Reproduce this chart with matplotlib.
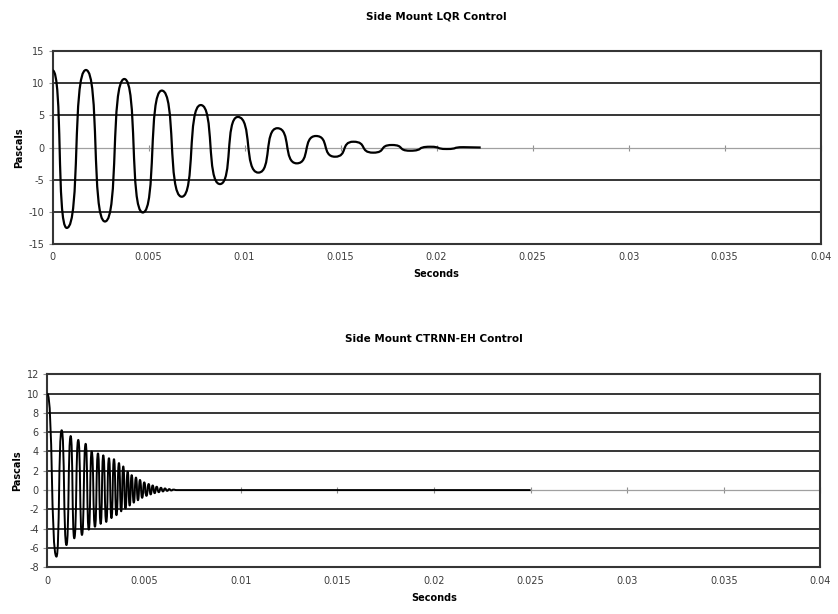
import matplotlib
matplotlib.use("Agg")
import matplotlib.pyplot as plt
from matplotlib.path import Path
from matplotlib.patches import PathPatch


# Extrema (seconds, pascals)
lqr_t = [0.0, 0.00074, 0.00174, 0.00273, 0.00374, 0.0047, 0.00569, 0.00673,
         0.00772, 0.00872, 0.00965, 0.01072, 0.01171, 0.01272, 0.01372,
         0.01471, 0.01567, 0.0167, 0.01767, 0.01862, 0.01966, 0.02053,
         0.0214, 0.0223]
lqr_p = [12.0, -12.5, 12.05, -11.5, 10.65, -10.1, 8.85, -7.65,
         6.6, -5.68, 4.75, -3.9, 3.0, -2.46, 1.79,
         -1.43, 0.9, -0.8, 0.39, -0.5, 0.12, -0.23,
         0.05, 0.0]

eh_t = [0.0, 0.000476, 0.000745, 0.000993, 0.001211, 0.001397, 0.001604,
        0.001795, 0.001987, 0.002147, 0.002297, 0.002468, 0.002623,
        0.002763, 0.002897, 0.003052, 0.003192, 0.003321, 0.003451,
        0.00358, 0.003709, 0.003823, 0.003932, 0.004046, 0.004159,
        0.004263, 0.004366, 0.004475, 0.004589, 0.004692, 0.004796,
        0.004909, 0.005018, 0.005132, 0.005246, 0.005349, 0.005453,
        0.005556, 0.005659, 0.005768, 0.005882, 0.005985, 0.006089,
        0.006203, 0.006311, 0.006415, 0.006518, 0.006694, 0.025]
eh_p = [10.0, -6.9, 6.2, -5.7, 5.6, -5.0, 5.2,
        -4.65, 4.8, -4.1, 4.0, -3.8, 3.8,
        -3.5, 3.6, -3.3, 3.3, -2.9, 3.2,
        -2.6, 2.8, -2.2, 2.45, -1.9, 1.9,
        -1.6, 1.55, -1.3, 1.3, -1.05, 1.05,
        -0.8, 0.8, -0.6, 0.63, -0.45, 0.48,
        -0.32, 0.35, -0.22, 0.24, -0.14, 0.17,
        -0.08, 0.1, -0.04, 0.05, 0.0, 0.0]

x_ticks = [0, 0.005, 0.01, 0.015, 0.02, 0.025, 0.03, 0.035, 0.04]
x_labels = ["0", "0.005", "0.01", "0.015", "0.02", "0.025", "0.03", "0.035", "0.04"]

GRID = "#353535"
TXT = "#3c3c3c"


def smooth_path(ts, ps, k):
    # cubic bezier between extrema, flat tangent at each turning point
    verts = [(ts[0], ps[0])]
    codes = [Path.MOVETO]
    for i in range(len(ts) - 1):
        dt = ts[i + 1] - ts[i]
        verts += [(ts[i] + k * dt, ps[i]), (ts[i + 1] - k * dt, ps[i + 1]),
                  (ts[i + 1], ps[i + 1])]
        codes += [Path.CURVE4] * 3
    return Path(verts, codes)


def draw_panel(ax, ts, ps, ylim, ystep, title, lw, k):
    ax.set_xlim(0, 0.04)
    ax.set_ylim(*ylim)
    yt = list(range(ylim[0], ylim[1] + 1, ystep))
    ax.set_yticks(yt)
    ax.set_yticklabels([str(v) for v in yt])
    ax.set_xticks(x_ticks)
    ax.set_xticklabels(x_labels)

    for v in yt:
        if v != 0 and v not in ylim:
            ax.axhline(v, color=GRID, lw=1.4, zorder=1)
    ax.axhline(0, color="#a0a0a0", lw=0.9, zorder=1)

    # category axis crossing at zero
    loc = (0 - ylim[0]) / (ylim[1] - ylim[0])
    sec = ax.secondary_xaxis(loc)
    sec.set_xticks(x_ticks)
    sec.set_xticklabels([])
    sec.tick_params(direction="inout", length=4, width=0.8, color="#909090")
    sec.spines["bottom"].set_visible(False)
    sec.spines["top"].set_visible(False)

    ax.add_patch(PathPatch(smooth_path(ts, ps, k), fill=False, ec="black",
                           lw=lw, zorder=3, joinstyle="round"))

    for s in ax.spines.values():
        s.set_color(GRID)
        s.set_linewidth(1.5)
    ax.tick_params(axis="x", length=0, pad=6, labelsize=7, labelcolor=TXT)
    ax.tick_params(axis="y", length=3, width=0.8, color="#909090", pad=3,
                   labelsize=7, labelcolor=TXT)

    ax.set_title(title, fontsize=7.5, fontweight="bold", pad=23)
    ax.set_xlabel("Seconds", fontsize=7, fontweight="bold", labelpad=5)
    ax.set_ylabel("Pascals", fontsize=7, fontweight="bold", labelpad=3)


fig = plt.figure(figsize=(8.38, 6.14), dpi=100)
ax1 = fig.add_axes([0.0627, 0.6026, 0.9165, 0.3143])
ax2 = fig.add_axes([0.0564, 0.0761, 0.9227, 0.3143])

draw_panel(ax1, lqr_t, lqr_p, (-15, 15), 5, "Side Mount LQR Control", 1.6, 0.72)
draw_panel(ax2, eh_t, eh_p, (-8, 12), 2, "Side Mount CTRNN-EH Control", 1.4, 0.6)

fig.savefig("out.png", dpi=100)
